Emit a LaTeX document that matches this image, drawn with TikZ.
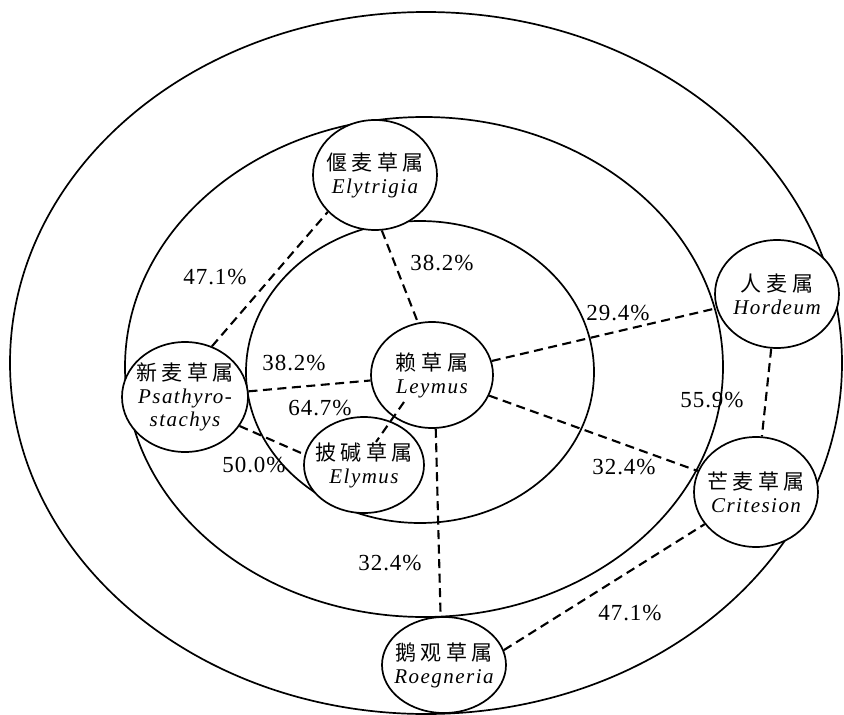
\documentclass[tikz,border=0pt]{standalone}
\usepackage{fontspec}
\setmainfont{Liberation Serif}
\newfontfamily\cjk[LetterSpace=22]{Noto Sans CJK SC}
\newfontfamily\lat[LetterSpace=7]{Liberation Serif}
\newfontfamily\num[LetterSpace=4]{Liberation Serif}
\usetikzlibrary{shapes.geometric}
\begin{document}
\begin{tikzpicture}[x=1pt,y=-1pt,
  ring/.style={line width=1.7pt},
  genus/.style={ellipse, draw, line width=1.7pt, fill=white, inner sep=0pt},
  gtext/.style={align=center, inner sep=0pt, font=\fontsize{21}{23}\selectfont},
  link/.style={line width=2.1pt, dash pattern=on 9pt off 5.5pt},
  pct/.style={font=\num\fontsize{23}{26}\selectfont, inner sep=0pt}]
\useasboundingbox (0,0) rectangle (844,715);
% concentric rings
\draw[ring] (426,363) ellipse [x radius=416, y radius=351];
\draw[ring] (424,367) ellipse [x radius=299, y radius=250];
\draw[ring] (420,372) ellipse [x radius=174, y radius=151];
% genus circles
\node[genus, minimum width=122pt, minimum height=106pt] (ley) at (432,375) {};
\node[genus, minimum width=124pt, minimum height=110pt] (ely) at (375,175) {};
\node[genus, minimum width=126pt, minimum height=110pt] (psa) at (185,397) {};
\node[genus, minimum width=120pt, minimum height=96pt] (elm) at (364,465) {};
\node[genus, minimum width=124pt, minimum height=108pt] (hor) at (777,294) {};
\node[genus, minimum width=124pt, minimum height=110pt] (cri) at (756,492) {};
\node[genus, minimum width=124pt, minimum height=96pt] (roe) at (444,665) {};
\coordinate (leyIn) at (404,402);
\coordinate (elmIn) at (376,442);
% connectors
\draw[link] (psa.62) -- (ely.218);
\draw[link] (ely.277) -- (ley.105);
\draw[link] (psa) -- (ley);
\draw[link] (leyIn) -- (elmIn);
\draw[link] (psa.332) -- (elm.170);
\draw[link] (ley) -- (hor);
\draw[link] (ley) -- (cri);
\draw[link] (ley.274) -- (roe.94);
\draw[link] (roe.14) -- (cri);
\draw[link] (hor) -- (cri);
% texts
\node[gtext] (leyT) at (ley) {{\cjk 赖草属}\\{\lat\itshape Leymus}};
\node[gtext] (elyT) at (ely) {{\cjk 偃麦草属}\\{\lat\itshape Elytrigia}};
\node[gtext] (psaT) at (psa) {{\cjk 新麦草属}\\{\lat\itshape Psathyro-}\\{\lat\itshape stachys}};
\node[gtext] (elmT) at (elm) {{\cjk 披碱草属}\\{\lat\itshape Elymus}};
\node[gtext] (horT) at (hor) {{\cjk 人麦属}\\{\lat\itshape Hordeum}};
\node[gtext] (criT) at (cri) {{\cjk 芒麦草属}\\{\lat\itshape Critesion}};
\node[gtext] (roeT) at (roe) {{\cjk 鹅观草属}\\{\lat\itshape Roegneria}};
% percentages
\node[pct] (p1) at (215,277) {47.1\%};
\node[pct] (p2) at (442,263) {38.2\%};
\node[pct] (p3) at (294,363) {38.2\%};
\node[pct] (p4) at (320,408) {64.7\%};
\node[pct] (p5) at (254,465) {50.0\%};
\node[pct] (p6) at (618,313) {29.4\%};
\node[pct] (p7) at (624,467) {32.4\%};
\node[pct] (p8) at (390,563) {32.4\%};
\node[pct] (p9) at (630,613) {47.1\%};
\node[pct] (p10) at (712,400) {55.9\%};
\end{tikzpicture}
\end{document}
